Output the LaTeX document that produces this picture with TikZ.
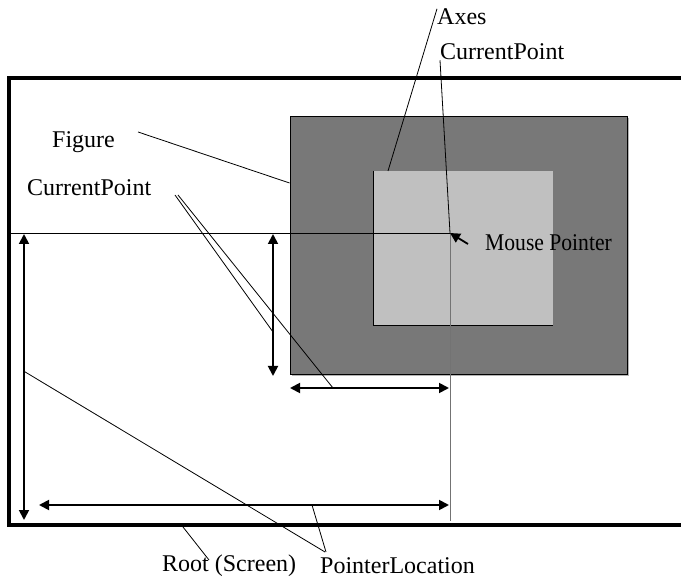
\documentclass[tikz,border=0pt]{standalone}
\usepackage{fontspec}
\setmainfont{Liberation Serif}
\usetikzlibrary{arrows.meta,positioning,calc}

\definecolor{figgray}{HTML}{787878}
\definecolor{axgray}{HTML}{C0C0C0}
\definecolor{shadowgray}{HTML}{B4B4B4}

\begin{document}
\begin{tikzpicture}[x=1pt, y=-1pt,
  lbl/.style={font=\fontsize{24}{28}\selectfont, inner sep=0pt, anchor=west},
  lead/.style={draw=black, line width=0.8pt},
  dim/.style={{Triangle[length=10pt,width=10pt]}-{Triangle[length=10pt,width=10pt]}, line width=1.8pt},
  ptrarrow/.style={-{Triangle[length=10pt,width=10pt]}, line width=1.8pt},
  figbox/.style={fill=figgray, draw=black, line width=0.9pt, minimum width=337pt,
    minimum height=258pt, inner sep=0pt},
  axbox/.style={fill=axgray, minimum width=179pt, minimum height=154pt, inner sep=0pt},
]
\useasboundingbox (0,0) rectangle (681,580);

%==================== ROOT (SCREEN) ====================
\draw[line width=4pt] (681,78) -- (9,78) -- (9,525) -- (681,525);

%==================== FIGURE + AXES ====================
\draw[shadowgray, line width=1.5pt] (292,375.5) -- (628.5,375.5) -- (628.5,118);
\node[figbox] (fig) at (458.5,245) {};
\node[axbox] (ax) at (463.5,248) {};
\draw[black, line width=1.3pt] (ax.north west) -- (ax.south west) -- (ax.south east);

% pointer position
\coordinate (ptr) at (450,233);
\draw[line width=0.8pt] (9,233) -- (ptr);
\draw[black!55, line width=1pt] (ptr) -- (450,521);

%==================== LABELS ====================
\node[lbl] (axlbl)   at (437,17)  {Axes};
\node[lbl] (cptop)   at (440,52)  {CurrentPoint};
\node[lbl] (figlbl)  at (52,142)  {Figure};
\node[lbl] (cpleft)  at (27,188)  {CurrentPoint};
\node[lbl] (mouse)   at (485,243) {\scalebox{0.9}[1]{Mouse Pointer}};
\node[lbl] (rootlbl) at (162,566) {Root (Screen)};
\node[lbl] (plocl)   at (320,566) {PointerLocation};

%==================== DIMENSIONS ====================
\coordinate (vt) at (273,234);
\coordinate (vb) at (273,376);
\coordinate (hl) at (290,388);
\coordinate (hr) at (449,388);
\coordinate (bvt) at (24,234);
\coordinate (bvb) at (24,520);
\coordinate (bhl) at (39,505);
\coordinate (bhr) at (449,505);
\draw[dim] (vt) -- (vb);
\draw[dim] (hl) -- (hr);
\draw[dim] (bvt) -- (bvb);
\draw[dim] (bhl) -- (bhr);
\draw[ptrarrow] (468,244) -- (ptr);

%==================== LEADERS ====================
\draw[lead] (axlbl.north west) -- (388,171);
\draw[lead] (cptop.south west) -- (ptr);
\draw[lead] (figlbl.east) ++(23,-10) -- (fig.west |- 0,183);
\draw[lead] (175,195) -- ($(vt)!0.69!(vb)$);
\draw[lead] (178,195) -- (333,388);
\draw[lead] ($(bvt)!0.48!(bvb)$) -- (325,552);
\draw[lead] (312,505) -- (326,552);
\draw[lead] (183,527) -- (209,560);

\end{tikzpicture}
\end{document}
